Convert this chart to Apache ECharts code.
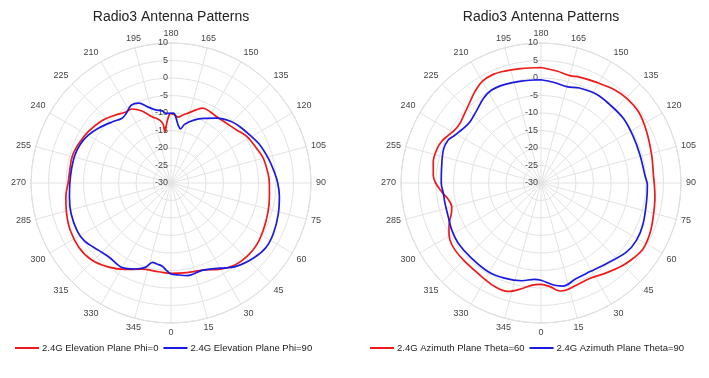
<!DOCTYPE html>
<html><head><meta charset="utf-8">
<script src="https://cdn.jsdelivr.net/npm/echarts@6/dist/echarts.min.js"></script>
<style>html,body{margin:0;padding:0;background:#fff}#c{width:709px;height:378px}</style>
</head><body><div id="c"></div>
<script>
// ---- data (angle in degrees, gain in dB) ----
const titleText = 'Radio3 Antenna Patterns';
const radiusTicks = { min: -30, max: 10, step: 5 };
const angleStep = 15;

const elevPhi0Name = '2.4G Elevation Plane Phi=0';
const elevPhi0Angles = [0,10,20,30,38,46,54,63,73,82,90,95,105,112,122,129,137,146,151,157,161,165,170,174,177,180,181,183,185,186.5,187.5,189,191,196,202,208,213,220,228,238,246,251,256,262,270,277,286,295,305,314,323,332,341,352];
const elevPhi0Gain   = [-4.2,-4.0,-3.5,-1.6,-0.3,0.2,0.2,-0.4,-1.05,-1.6,-1.9,-2.1,-2.7,-3.6,-4.65,-5.9,-6.7,-7.0,-6.8,-6.75,-7.9,-9.1,-10.25,-11.1,-10.5,-10.1,-10.2,-11.8,-13.8,-15.2,-13.2,-12.2,-11.5,-10.3,-7.8,-6.05,-5.9,-4.8,-3.4,-2.2,-1.45,-1.0,-0.76,-0.84,-0.6,0.26,1.05,1.8,2.1,1.6,0.0,-2.05,-3.95,-4.4];

const elevPhi90Name = '2.4G Elevation Plane Phi=90';
const elevPhi90Angles = [0,4,10,20,30,38,48,56,64,74,83,90,96,104,113,121,129,136,145,153,160,167,170,173,176,178,180,184,187,192,197,202,207,213,217,224,233,240,247,254,262,270,278,287,297,304,313,320,330,337,343,347,350,354,357];
const elevPhi90Gain   = [-4.0,-3.7,-3.15,-3.5,-1.9,0.24,1.9,2.8,2.6,1.9,1.2,0.5,-0.3,-1.3,-2.35,-3.6,-4.55,-5.5,-7.4,-9.3,-10.9,-12.8,-14.3,-13.3,-11.0,-10.05,-10.1,-10.05,-9.25,-8.65,-7.25,-5.4,-5.05,-6.4,-6.8,-5.75,-4.0,-2.7,-1.8,-1.4,-1.3,-1.1,-0.7,-0.14,0.1,-0.26,-1.76,-2.4,-2.1,-3.3,-4.8,-6.7,-6.5,-6.1,-5.0];

const azTheta60Name = '2.4G Azimuth Plane Theta=60';
const azTheta60Angles = [0,5,10,13,19,27,36,45,51,57,65,73,83,89,94,104,116,126,135,142,151,160,165,172,180,190,198,204,210,216,221,228,234,238,243,247,252,259,266,270,275,280,285,289,293,297,302,308,316,328,336,343,350,355];
const azTheta60Gain   = [-1.05,-0.27,1.33,1.44,0.88,0.63,1.75,3.2,4.05,4.7,4.3,3.5,2.8,2.4,2.2,2.6,3.56,4.5,4.4,3.9,2.87,2.2,1.76,2.3,3.0,3.2,3.6,3.9,3.55,2.2,0.85,-0.54,-1.26,-1.13,-0.18,0.74,1.27,1.36,0.85,0.1,-1.5,-3.1,-3.6,-2.9,-1.57,-0.48,0.68,1.15,1.25,1.68,2.4,2.4,0.6,-0.73];

const azTheta90Name = '2.4G Azimuth Plane Theta=90';
const azTheta90Angles = [0,7,12,20,29,39,51,59,68,81,89,94,106,117,128,139,148,158,165,173,180,191,200,208,214,221,229,234,241,245,251,262,270,276,282,290,298,306,317,329,339,349,356];
const azTheta90Gain   = [-2.2,-0.65,0.11,-0.9,-1.06,-0.35,1.37,1.8,1.43,0.58,0.4,-0.2,-0.6,-0.48,-0.09,-0.2,-0.09,-0.74,-1.5,-1.0,-0.5,-0.34,0.0,0.08,-0.73,-2.2,-3.2,-3.0,-1.86,-0.8,-0.54,-1.3,-1.5,-1.94,-1.96,-1.8,-1.16,-0.76,-0.75,-0.53,-0.88,-1.55,-2.42];

const redColor = '#ee1a1a';
const blueColor = '#1a1ae0';
const FONT = 'Liberation Sans, Arial, sans-serif';

// map angle so that 180 sits at the top of the axis range [180, 540]
function buildData(angles, gains) {
  const pts = angles.map((a, i) => [gains[i], a < 180 ? a + 360 : a]);
  pts.sort((p, q) => p[1] - q[1]);
  const top = pts.find(p => p[1] === 180);
  pts.push([top[0], 540]);
  return pts;
}

const chart = echarts.init(document.getElementById('c'), null, { renderer: 'canvas' });
const centers = [171, 541];
const gridColor = '#e3e3e3';

function angleAxis(i) {
  return {
    polarIndex: i, type: 'value', min: 180, max: 540, interval: angleStep,
    startAngle: 90, clockwise: false,
    axisLine: { lineStyle: { color: '#cfcfcf', width: 1 } },
    axisTick: { show: false },
    axisLabel: { formatter: v => String(v % 360), color: '#444', fontSize: 9, margin: 5, fontFamily: FONT },
    splitLine: { lineStyle: { color: gridColor, width: 1 } }
  };
}
function radiusAxis(i) {
  return {
    polarIndex: i, type: 'value', min: radiusTicks.min, max: radiusTicks.max, interval: radiusTicks.step,
    axisLine: { show: false }, axisTick: { show: false },
    axisLabel: { color: '#444', fontSize: 9, margin: 3, fontFamily: FONT },
    splitLine: { lineStyle: { color: gridColor, width: 1 } },
    z: 5
  };
}
function lineSeries(name, angles, gains, color, idx) {
  return {
    type: 'line', name, coordinateSystem: 'polar', polarIndex: idx,
    data: buildData(angles, gains), symbol: 'none', smooth: 0.35,
    lineStyle: { color, width: 1.7 }, itemStyle: { color },
    animation: false, z: 10
  };
}
function legend(names, left) {
  return {
    data: names, left, top: 343, padding: 0, icon: 'rect', itemWidth: 24, itemHeight: 2, itemGap: 5,
    textStyle: { fontSize: 9.5, color: '#222', fontFamily: FONT, padding: [0, 0, 0, -2] }
  };
}

chart.setOption({
  backgroundColor: '#fff',
  animation: false,
  title: centers.map(cx => ({
    text: titleText, left: cx, top: 10, textAlign: 'center', padding: 0,
    textStyle: { fontSize: 14, fontWeight: 'normal', color: '#222', fontFamily: FONT }
  })),
  polar: centers.map(cx => ({ center: [cx, 183], radius: 140 })),
  angleAxis: [angleAxis(0), angleAxis(1)],
  radiusAxis: [radiusAxis(0), radiusAxis(1)],
  legend: [
    legend([elevPhi0Name, elevPhi90Name], 15),
    legend([azTheta60Name, azTheta90Name], 370)
  ],
  series: [
    lineSeries(elevPhi0Name, elevPhi0Angles, elevPhi0Gain, redColor, 0),
    lineSeries(elevPhi90Name, elevPhi90Angles, elevPhi90Gain, blueColor, 0),
    lineSeries(azTheta60Name, azTheta60Angles, azTheta60Gain, redColor, 1),
    lineSeries(azTheta90Name, azTheta90Angles, azTheta90Gain, blueColor, 1)
  ]
});
</script></body></html>
